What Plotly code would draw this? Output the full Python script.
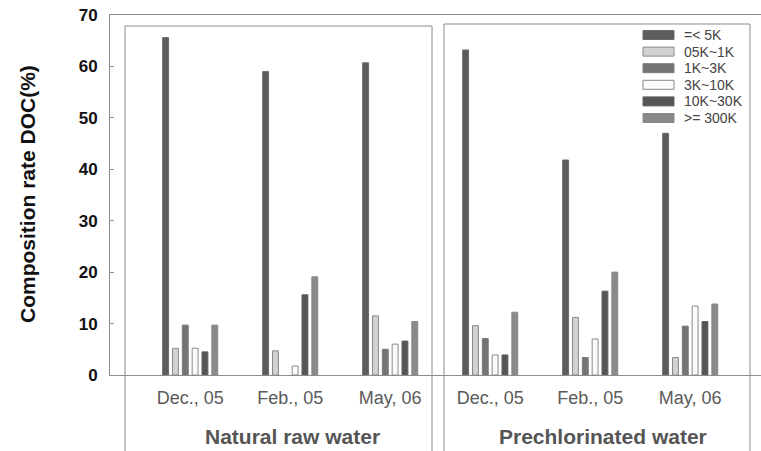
import plotly.graph_objects as go

# ---------------- data ----------------
categories = ["Dec., 05", "Feb., 05", "May, 06", "Dec., 05", "Feb., 05", "May, 06"]
groups = ["Natural raw water", "Prechlorinated water"]
series_names = ["=< 5K", "05K~1K", "1K~3K", "3K~10K", "10K~30K", ">= 300K"]
v_lt5k = [65.6, 59.0, 60.7, 63.2, 41.8, 47.0]
v_05_1k = [5.2, 4.7, 11.5, 9.6, 11.2, 3.4]
v_1_3k = [9.7, None, 5.0, 7.1, 3.4, 9.5]
v_3_10k = [5.2, 1.75, 6.0, 3.9, 7.0, 13.4]
v_10_30k = [4.5, 15.6, 6.6, 3.9, 16.3, 10.4]
v_ge300k = [9.7, 19.1, 10.4, 12.2, 20.0, 13.8]
series_values = [v_lt5k, v_05_1k, v_1_3k, v_3_10k, v_10_30k, v_ge300k]
y_ticks = [0, 10, 20, 30, 40, 50, 60, 70]

# ---------------- styles ----------------
fills = ["#5c5c5c", "#d2d2d2", "#747474", "#fbfbfb", "#555555", "#8a8a8a"]
edges = ["#6a6a6a", "#8a8a8a", "#7a7a7a", "#8a8a8a", "#626262", "#8a8a8a"]
FONT = "Liberation Sans, Arial, sans-serif"
OFF = 0  # page body margin (removed by post_script)
W, H = 761 - OFF, 451 - OFF
PLOT_L, PLOT_R, PLOT_T, PLOT_B = 110, 761, 15, 375  # in window pixels
ML, MR, MT, MB = PLOT_L - OFF, 761 - PLOT_R, PLOT_T - OFF, 451 - PLOT_B
PW, PH = PLOT_R - PLOT_L, PLOT_B - PLOT_T

def px(x):
    return (x - PLOT_L) / PW

def py(y):
    return (PLOT_B - y) / PH

xpos = list(range(len(categories)))

fig = go.Figure()
for name, vals, fc, ec in zip(series_names, series_values, fills, edges):
    fig.add_trace(go.Bar(
        x=xpos, y=vals, name=name, showlegend=False,
        marker=dict(color=fc, line=dict(color=ec, width=1)),
    ))

shapes = []
annotations = []

# panel boxes
shapes.append(dict(type="rect", xref="paper", yref="paper",
                   x0=px(125), x1=px(432), y0=py(455), y1=py(26),
                   line=dict(color="#8c8c8c", width=1), fillcolor="rgba(0,0,0,0)", layer="below"))
shapes.append(dict(type="rect", xref="paper", yref="paper",
                   x0=px(444), x1=px(750), y0=py(455), y1=py(24),
                   line=dict(color="#8c8c8c", width=1), fillcolor="rgba(0,0,0,0)", layer="below"))

# custom legend
leg_y0 = 35
leg_dy = 16.6
for i, (name, fc, ec) in enumerate(zip(series_names, fills, edges)):
    cy = leg_y0 + i * leg_dy
    shapes.append(dict(type="rect", xref="paper", yref="paper",
                       x0=px(643), x1=px(674), y0=py(cy + 4.5), y1=py(cy - 4.5),
                       fillcolor=fc, line=dict(color=ec, width=1)))
    annotations.append(dict(xref="paper", yref="paper", x=px(682), y=py(cy),
                            text=name, showarrow=False, xanchor="left", yanchor="middle",
                            font=dict(family=FONT, size=14, color="#444444")))

# group labels
annotations.append(dict(xref="paper", yref="paper", x=px(292), y=py(436),
                        text=groups[0], showarrow=False, xanchor="center", yanchor="middle",
                        font=dict(family=FONT, size=21, color="#555555", weight="bold")))
annotations.append(dict(xref="paper", yref="paper", x=px(603), y=py(436),
                        text=groups[1], showarrow=False, xanchor="center", yanchor="middle",
                        font=dict(family=FONT, size=21, color="#555555", weight="bold")))

# y-axis title
annotations.append(dict(xref="paper", yref="paper", x=px(27), y=py(194),
                        text="Composition rate DOC(%)", showarrow=False, textangle=-90,
                        xanchor="center", yanchor="middle",
                        font=dict(family=FONT, size=21, color="#111111", weight="bold")))

fig.update_layout(
    width=W, height=H,
    margin=dict(l=ML, r=MR, t=MT, b=MB, autoexpand=False),
    paper_bgcolor="white", plot_bgcolor="white",
    barmode="group", bargap=0.41, bargroupgap=0.4,
    shapes=shapes, annotations=annotations,
    showlegend=False,
    xaxis=dict(range=[-0.802, 5.708], tickvals=xpos, ticktext=categories,
               showgrid=False, zeroline=False, showline=True, mirror=True,
               linecolor="#8c8c8c", linewidth=1, ticks="",
               tickfont=dict(family=FONT, size=18, color="#5a5a5a"),
               ticklabelstandoff=6),
    yaxis=dict(range=[0, 70], tickvals=y_ticks, showgrid=False, zeroline=False,
               showline=True, linecolor="#8c8c8c", linewidth=1,
               ticks="inside", ticklen=4, tickcolor="#8c8c8c",
               tickfont=dict(family=FONT, size=17, color="#111111", weight="bold"),
               ticklabelstandoff=8, ticklabeloverflow="allow"),
)

fig.write_html("out.html",
               config={"displayModeBar": False},
               post_script="document.body.style.margin='0px';document.body.style.overflow='hidden';")
